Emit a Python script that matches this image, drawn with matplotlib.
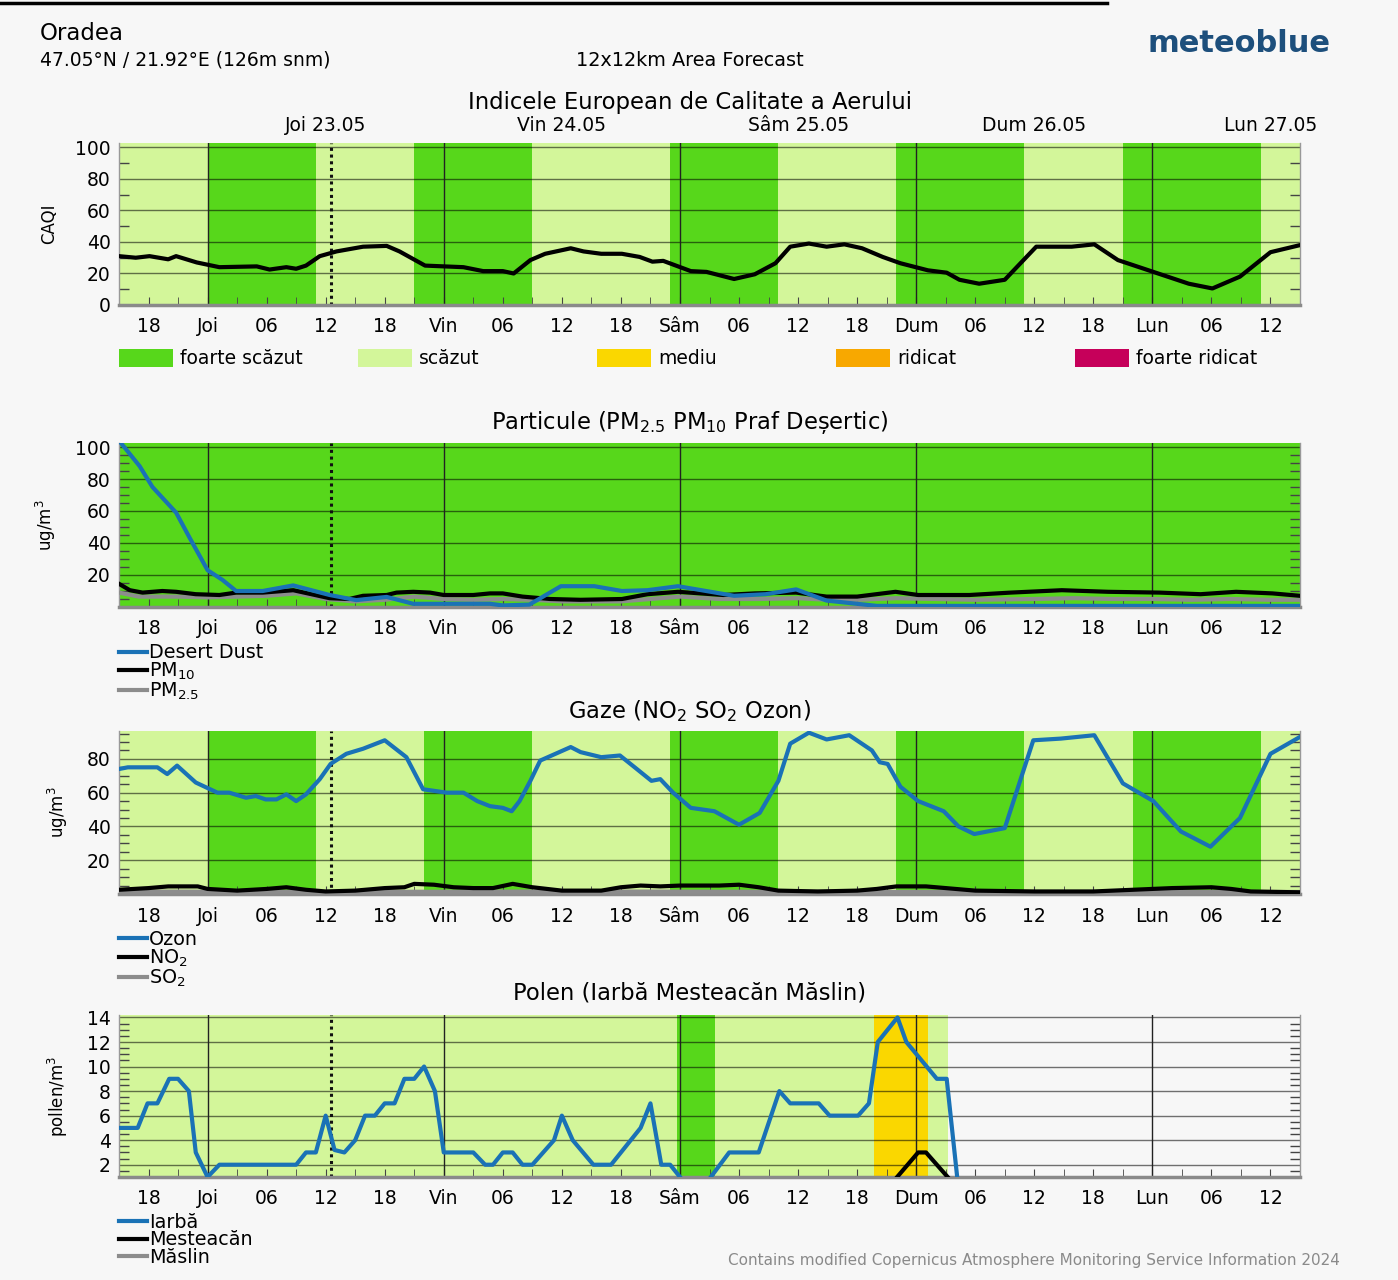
import matplotlib.pyplot as plt
from matplotlib.ticker import FixedLocator, MultipleLocator
from matplotlib.patches import Rectangle

# ---- data (hours relative to Joi 23.05 00:00) ----
tick_hours = list(range(-6, 109, 6))
tick_labels = ['18', 'Joi', '06', '12', '18', 'Vin', '06', '12', '18', 'Sâm', '06', '12',
               '18', 'Dum', '06', '12', '18', 'Lun', '06', '12']
day_starts = [0, 24, 48, 72, 96]
day_labels = ['Joi 23.05', 'Vin 24.05', 'Sâm 25.05', 'Dum 26.05', 'Lun 27.05']
now_hour = 12.5

level_names = ['foarte scăzut', 'scăzut', 'mediu', 'ridicat', 'foarte ridicat']
level_colors = ['#57d71b', '#d3f69a', '#fad700', '#f8a800', '#c6005a']

# CAQI
caqi_band_edges = [-9, 0, 11, 21, 33, 47, 58, 70, 83, 93, 107, 111]
caqi_band_level = [1, 0, 1, 0, 1, 0, 1, 0, 1, 0, 1]
caqi_hours = [-9, -7.3, -5.9, -4, -3.2, -1.1, 1.2, 5, 6.3, 8, 9, 10, 11.4, 13.1, 15.8, 18.2,
              19.5, 22.1, 26, 28, 30, 31.1, 32.8, 34.3, 36.9, 38.2, 40, 42.1, 43.9, 45.2,
              46.3, 49.1, 50.7, 53.5, 55.6, 57.7, 59.2, 61.1, 62.9, 64.7, 66.5, 68.6, 70.4,
              73.2, 75.1, 76.4, 78.4, 81, 84.2, 87.8, 90.1, 92.5, 96.1, 99.7, 102.1, 104.9,
              108, 111]
caqi_values = [31, 30, 31, 29, 31, 27, 24, 24.5, 22.5, 24, 23, 25, 31, 34, 37, 37.5,
               34, 25, 24, 21.5, 21.5, 20, 28.5, 32.5, 36, 34, 32.5, 32.5, 30.5, 27.5,
               28, 21.5, 21, 16.5, 19.5, 26.5, 37, 39, 37, 38.5, 36, 30.5, 26.5,
               22, 20.5, 16, 13.5, 16, 37, 37, 38.5, 28.5, 21, 13.5, 10.5, 18,
               33.5, 38]

# particles
pm_band_edges = [-9, 111]
pm_band_level = [0]
dust_hours = [-9, -6.9, -5.6, -3.2, -1.8, 0, 1.5, 2.9, 5.6, 8.7, 12.4, 15.1, 18.2, 20.9, 28.7,
              30, 32.7, 35.9, 39.3, 42.1, 44.7, 47.8, 53.5, 56.7, 59.8, 62.9, 68, 111]
dust_values = [104, 88, 75, 59, 43, 23, 17, 10, 10, 13.5, 7.5, 4.3, 6.3, 2, 2,
               1, 1.5, 13, 13, 10, 10.5, 13, 7, 8, 11, 4, 0.7, 0.7]
pm10_hours = [-9, -7.9, -6.6, -4.6, -3.2, -1.2, 1.2, 2.9, 5.6, 8.7, 12.4, 14.4, 15.8, 18.2,
              19.2, 20.9, 22.6, 24, 27, 28.7, 30, 32, 34.8, 37.9, 42.1, 44.7, 47.8, 52.4,
              55.6, 59.8, 62.9, 66, 69.9, 72.2, 77.4, 81.6, 86.8, 91.5, 96.7, 100.9, 104.5,
              108.2, 111]
pm10_values = [14.5, 10.5, 9, 10, 9.5, 8, 7.5, 9, 9, 10.5, 5.5, 5, 7, 7.5,
               9, 9.5, 9, 7.5, 7.5, 8.5, 8.5, 6.5, 5, 4.5, 5, 8, 9.5, 7.5,
               8.5, 9, 6.5, 6.5, 9.5, 7.5, 7.5, 9, 10.5, 9.5, 9, 8, 9.5,
               8.5, 7]
pm25_hours = [-9, -7, -3, 0, 3, 6, 9, 12, 15, 18, 21, 24, 27, 30, 33, 36, 42, 45, 48, 52,
              56, 60, 63, 66, 70, 74, 78, 84, 88, 92, 96, 100, 104, 108, 111]
pm25_values = [9, 6.5, 6.5, 6, 6.5, 7, 8.5, 5, 3.5, 4.5, 6.5, 5, 4.5, 5, 4.5, 3.5, 3.5, 5,
               6.5, 5, 5, 5.5, 4.5, 4.5, 5.5, 5, 4.5, 5, 5.5, 5, 5, 4.5, 5, 4.5, 4.5]

# gases
gas_band_edges = [-9, 0, 11, 22, 33, 47, 58, 70, 83, 94, 107, 111]
gas_band_level = [1, 0, 1, 0, 1, 0, 1, 0, 1, 0, 1]
ozone_hours = [-9, -8.1, -5.1, -4.1, -3.1, -1.2, -0.1, 1, 2.2, 3.9, 4.9, 5.9, 7, 8, 9, 10,
               11.4, 12.5, 14.1, 15.8, 18, 20.2, 21.9, 24.3, 26, 27.4, 28.7, 30, 30.9, 31.7,
               32.8, 33.8, 36.9, 37.9, 40, 41.9, 43.4, 45.1, 46, 47.3, 49.1, 51.5, 54, 56.1,
               58, 59.2, 61.1, 62.9, 65.2, 67.5, 68.3, 69.1, 70.4, 72.2, 74.8, 76.3, 77.9,
               81, 83.9, 86.7, 90.1, 93, 96.1, 98.9, 101.9, 104.9, 108, 111]
ozone_values = [74, 75, 75, 71, 76, 66, 63, 60, 60, 57, 58, 56, 56, 59, 55, 59,
                68, 77, 83, 86, 91, 81, 62, 60, 60, 55, 52, 51, 49, 55,
                67, 79, 87, 84, 81, 82, 75, 67, 68, 60, 51, 49, 41, 48,
                67, 89, 95.5, 91.5, 94, 85, 78, 77, 63.5, 55, 49, 40, 35.5,
                39, 91, 92, 94, 65.5, 55, 37, 28, 45, 83, 93]
no2_hours = [-9, -6, -4, -1, 0, 3, 6, 8, 10, 12, 15, 18, 20, 21, 23, 25, 27, 29, 31, 33, 36,
             40, 42, 44, 46, 48, 52, 54, 56, 58, 62, 66, 68, 70, 73, 76, 78, 84, 90, 94, 98,
             102, 104, 106, 111]
no2_values = [2.5, 3.5, 4.5, 4.5, 3, 2, 3, 4, 2.5, 1.5, 2, 3.5, 4, 6, 5.5, 4, 3.5, 3.5, 6,
              4, 2, 2, 4, 5, 4.5, 5, 5, 5.5, 4, 2, 1.5, 2, 3, 4.5, 4.5, 3, 2, 1.5, 1.5, 2.5,
              3.5, 4, 3, 1.5, 1]
so2_hours = [-9, 12, 36, 60, 84, 111]
so2_values = [1.5, 1.2, 1.5, 1.3, 1.2, 1.2]

# pollen
pol_band_edges = [-9, 47.7, 51.6, 67.7, 73.2, 75.2]
pol_band_level = [1, 0, 1, 2, 1]
grass_hours = [-9, -7.1, -6.1, -5.1, -3.9, -3, -1.9, -1.2, 0, 1.2, 9, 10, 11, 12, 12.9, 13.9,
               15, 16, 17, 18, 19, 20, 21, 22, 23.1, 24, 27, 28.2, 29, 30, 31, 32, 33, 35.2,
               36, 37.1, 39.2, 41, 44, 45, 46.1, 47, 49, 50.2, 53, 56, 58.1, 59.2, 62.1,
               63.2, 66.1, 67.2, 68.1, 70.1, 71, 74.1, 75.1, 76.3]
grass_values = [5, 5, 7, 7, 9, 9, 8, 3, 1, 2, 2, 3, 3, 6, 3.2, 3,
                4, 6, 6, 7, 7, 9, 9, 10, 8, 3, 3, 2, 2, 3, 3, 2, 2, 4,
                6, 4, 2, 2, 5, 7, 2, 2, 0, 0, 3, 3, 8, 7, 7,
                6, 6, 7, 12, 14, 12, 9, 9, 0]
birch_hours = [-9, 69, 72.2, 73, 76.3]
birch_values = [0, 0, 3, 3, 0]
olive_hours = [-9, 76.3]
olive_values = [0, 0]

# ---- style ----
PAGE = '#f7f7f7'
BLUE = '#1a72b6'
W, H = 1398, 1280
plt.rcParams['font.family'] = 'DejaVu Sans'
plt.rcParams['mathtext.fontset'] = 'dejavusans'

fig = plt.figure(figsize=(W / 100, H / 100), dpi=100, facecolor=PAGE)

# overlay in pixel coordinates for header, titles and the CAQI legend
over = fig.add_axes([0, 0, 1, 1])
over.set_xlim(0, W)
over.set_ylim(H, 0)
over.axis('off')


def panel(top, bottom):
    return fig.add_axes([119 / W, 1 - bottom / H, (1300 - 119) / W, (bottom - top) / H])


def setup(ax, edges, levels, ylim, yticks, yminor, ylabel):
    ax.set_facecolor(PAGE)
    for a, b, lv in zip(edges[:-1], edges[1:], levels):
        ax.axvspan(a, b, color=level_colors[lv], lw=0, zorder=0)
    ax.set_xlim(-9, 111)
    ax.set_ylim(*ylim)
    ax.xaxis.set_major_locator(FixedLocator(tick_hours))
    ax.set_xticklabels(tick_labels)
    ax.xaxis.set_minor_locator(MultipleLocator(3))
    ax.yaxis.set_major_locator(FixedLocator(yticks))
    ax.yaxis.set_minor_locator(MultipleLocator(yminor))
    ax.tick_params(axis='x', which='both', direction='in', length=6, color='#444',
                   labelsize=13.5, pad=9, top=False)
    ax.tick_params(axis='y', which='major', length=0, labelsize=13.5, pad=6)
    ax.tick_params(axis='y', which='minor', direction='in', length=7, color='#444',
                   left=True, right=True, width=1)
    ax.grid(axis='y', which='major', color='black', alpha=0.55, lw=1)
    for d in day_starts:
        ax.axvline(d, color='#222', lw=1, zorder=1.6)
    ax.spines['top'].set_visible(False)
    for s in ['left', 'right']:
        ax.spines[s].set_color('#999')
        ax.spines[s].set_linewidth(1)
    ax.spines['bottom'].set_color('#8a8a8a')
    ax.spines['bottom'].set_linewidth(2.5)
    ax.set_ylabel(ylabel, fontsize=12, labelpad=12)


def legend(ax, handles, labels):
    ax.legend(handles, labels, loc='upper left', bbox_to_anchor=(0, -0.222),
              borderaxespad=0, borderpad=0, frameon=False, fontsize=13.8,
              handlelength=1.45, handletextpad=0.12, labelspacing=-0.08)


# ---- panel 1: CAQI ----
ax1 = panel(143, 305)
setup(ax1, caqi_band_edges, caqi_band_level, (0, 102.8), [0, 20, 40, 60, 80, 100], 10, 'CAQI')
ax1.plot(caqi_hours, caqi_values, color='black', lw=3, zorder=3)
ax1.axvline(now_hour, color='#111', ls=(0, (1, 1.2)), lw=2.2, zorder=2.5)
for d, lab in zip(day_starts, day_labels):
    ax1.text(d + 12, 1.11, lab, transform=ax1.get_xaxis_transform(),
             ha='center', va='center', fontsize=13.5)

# ---- panel 2: particles ----
ax2 = panel(443, 607)
setup(ax2, pm_band_edges, pm_band_level, (0, 102.5), [20, 40, 60, 80, 100], 5, 'ug/m$^3$')
l_pm25, = ax2.plot(pm25_hours, pm25_values, color='#8c8c8c', lw=3, zorder=3)
l_pm10, = ax2.plot(pm10_hours, pm10_values, color='black', lw=3, zorder=3.1)
l_dust, = ax2.plot(dust_hours, dust_values, color=BLUE, lw=3, zorder=3.2)
ax2.axvline(now_hour, color='#111', ls=(0, (1, 1.2)), lw=2.2, zorder=2.5)
legend(ax2, [l_dust, l_pm10, l_pm25], ['Desert Dust', 'PM$_{10}$', 'PM$_{2.5}$'])

# ---- panel 3: gases ----
ax3 = panel(731, 894)
setup(ax3, gas_band_edges, gas_band_level, (0, 96.5), [20, 40, 60, 80], 5, 'ug/m$^3$')
l_so2, = ax3.plot(so2_hours, so2_values, color='#8c8c8c', lw=3, zorder=3)
l_no2, = ax3.plot(no2_hours, no2_values, color='black', lw=3, zorder=3.1)
l_o3, = ax3.plot(ozone_hours, ozone_values, color=BLUE, lw=3, zorder=3.2)
ax3.axvline(now_hour, color='#111', ls=(0, (1, 1.2)), lw=2.2, zorder=2.5)
legend(ax3, [l_o3, l_no2, l_so2], ['Ozon', 'NO$_2$', 'SO$_2$'])

# ---- panel 4: pollen ----
ax4 = panel(1015, 1177)
setup(ax4, pol_band_edges, pol_band_level, (1, 14.2), [2, 4, 6, 8, 10, 12, 14], 0.5,
      'pollen/m$^3$')
l_olive, = ax4.plot(olive_hours, olive_values, color='#8c8c8c', lw=3, zorder=3)
l_birch, = ax4.plot(birch_hours, birch_values, color='black', lw=3, zorder=3.1)
l_grass, = ax4.plot(grass_hours, grass_values, color=BLUE, lw=3, zorder=3.2)
ax4.axvline(now_hour, color='#111', ls=(0, (1, 1.2)), lw=2.2, zorder=2.5)
legend(ax4, [l_grass, l_birch, l_olive], ['Iarbă', 'Mesteacăn', 'Măslin'])

# ---- header, titles, legend of CAQI levels ----
over.plot([0, 1107], [3, 3], color='black', lw=2.5)
over.text(40, 33, 'Oradea', fontsize=16.5, va='center', ha='left')
over.text(40, 60, '47.05°N / 21.92°E (126m snm)', fontsize=13.5, va='center', ha='left')
over.text(690, 60, '12x12km Area Forecast', fontsize=13.9, va='center', ha='center')
over.text(1147, 43, 'meteoblue', fontsize=22, fontweight='bold', color='#1d4f7c',
          va='center', ha='left')
over.text(690, 102, 'Indicele European de Calitate a Aerului', fontsize=16.4,
          va='center', ha='center')
over.text(690, 422, 'Particule (PM$_{2.5}$ PM$_{10}$ Praf Deșertic)', fontsize=16.3,
          va='center', ha='center')
over.text(690, 711, 'Gaze (NO$_2$ SO$_2$ Ozon)', fontsize=16.3, va='center', ha='center')
over.text(690, 993, 'Polen (Iarbă Mesteacăn Măslin)', fontsize=16.3, va='center', ha='center')
over.text(1340, 1260, 'Contains modified Copernicus Atmosphere Monitoring Service Information 2024',
          fontsize=11, color='#8a8a8a', va='center', ha='right')

for i, (name, col) in enumerate(zip(level_names, level_colors)):
    x0 = 119 + 239 * i
    over.add_patch(Rectangle((x0, 349), 54, 18, color=col, lw=0))
    over.text(x0 + 61, 358, name, fontsize=13.5, va='center', ha='left')

fig.savefig('out.png', dpi=100, facecolor=PAGE)
